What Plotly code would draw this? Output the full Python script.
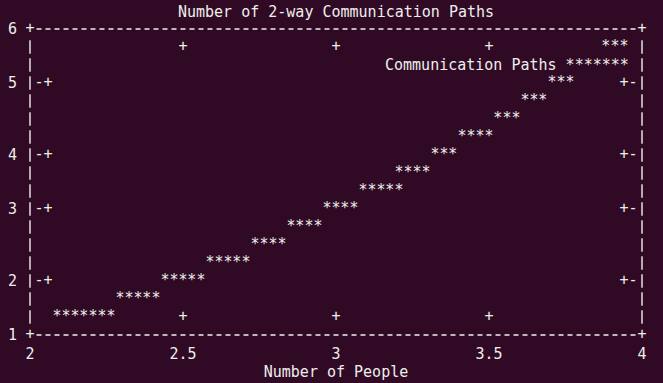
import plotly.graph_objects as go

# ---------------- data ----------------
title_text = "Number of 2-way Communication Paths"
x_label = "Number of People"
series_name = "Communication Paths"

x_ticks = [2, 2.5, 3, 3.5, 4]
x_tick_labels = ["2", "2.5", "3", "3.5", "4"]
y_ticks = [1, 2, 3, 4, 5, 6]
y_tick_labels = ["1", "2", "3", "4", "5", "6"]

# the curve as drawn by the text terminal: one value per '*' glyph
people = [
    2.088, 2.118, 2.147, 2.176, 2.206, 2.235, 2.265,
    2.294, 2.324, 2.353, 2.382, 2.412,
    2.441, 2.471, 2.500, 2.529, 2.559,
    2.588, 2.618, 2.647, 2.676, 2.706,
    2.735, 2.765, 2.794, 2.824,
    2.853, 2.882, 2.912, 2.941,
    2.971, 3.000, 3.029, 3.059,
    3.088, 3.118, 3.147, 3.176, 3.206,
    3.206, 3.235, 3.265, 3.294,
    3.324, 3.353, 3.382,
    3.412, 3.441, 3.471, 3.500,
    3.529, 3.559, 3.588,
    3.618, 3.647, 3.676,
    3.706, 3.735, 3.765,
    3.882, 3.912, 3.941,
]
paths = [
    1.294, 1.294, 1.294, 1.294, 1.294, 1.294, 1.294,
    1.588, 1.588, 1.588, 1.588, 1.588,
    1.882, 1.882, 1.882, 1.882, 1.882,
    2.176, 2.176, 2.176, 2.176, 2.176,
    2.471, 2.471, 2.471, 2.471,
    2.765, 2.765, 2.765, 2.765,
    3.059, 3.059, 3.059, 3.059,
    3.353, 3.353, 3.353, 3.353, 3.353,
    3.647, 3.647, 3.647, 3.647,
    3.941, 3.941, 3.941,
    4.235, 4.235, 4.235, 4.235,
    4.529, 4.529, 4.529,
    4.824, 4.824, 4.824,
    5.118, 5.118, 5.118,
    5.706, 5.706, 5.706,
]

# ---------------- styling ----------------
BG = "#300a24"
FG = "#eeeeec"
FONT = "DejaVu Sans Mono"
FS = 15
W, H = 663, 383
L, R, T, B = 30, 21, 29, 48
PW, PH = W - L - R, H - T - B      # 612 x 306
CELL_W, CELL_H = 9.0, 18.0

xmin, xmax = x_ticks[0], x_ticks[-1]
ymin, ymax = y_ticks[0], y_ticks[-1]
cw = (xmax - xmin) * CELL_W / PW    # one character column in data units
rh = (ymax - ymin) * CELL_H / PH    # one character row in data units


def snap_y(v):
    """Text terminals put ticks on the nearest character row."""
    return ymax - round((ymax - v) / rh) * rh


def snap_x(v):
    return xmin + round((v - xmin) / cw) * cw


inner_y = [v for v in y_ticks if ymin < v < ymax]
inner_x = [v for v in x_ticks if xmin < v < xmax]

# tick glyphs ("-+" on the left, "+-" on the right, "+" top and bottom)
tick_x, tick_y, tick_t = [], [], []
for v in inner_y:
    sy = snap_y(v)
    tick_x += [xmin + cw, xmin + 2 * cw, xmax - 2 * cw, xmax - cw]
    tick_y += [sy] * 4
    tick_t += ["-", "+", "+", "-"]
for v in inner_x:
    sx = snap_x(v)
    tick_x += [sx, sx]
    tick_y += [ymax - rh, ymin + rh]
    tick_t += ["+", "+"]
# border corners
for cx in (xmin, xmax):
    for cy in (ymin, ymax):
        tick_x.append(cx)
        tick_y.append(cy)
        tick_t.append("+")

fig = go.Figure()

fig.add_trace(go.Scatter(
    x=people, y=paths, mode="text", text=["*"] * len(people),
    textposition="middle center",
    textfont=dict(family=FONT, size=FS, color=FG),
    name=series_name, showlegend=False, cliponaxis=False,
    hoverinfo="x+y",
))

fig.add_trace(go.Scatter(
    x=tick_x, y=tick_y, mode="text", text=tick_t,
    textposition="middle center",
    textfont=dict(family=FONT, size=FS, color=FG),
    showlegend=False, cliponaxis=False, hoverinfo="skip",
))

# dashed border made of '-' and '|' character cells
hx0 = (CELL_W - 2.5) / PW
hx1 = 1 - (CELL_W - 2.5) / PW
vy0 = 1 - (CELL_H - 6.75) / PH
vy1 = (CELL_H - 6.75) / PH
shapes = []
for yy in (0, 1):
    shapes.append(dict(type="line", xref="paper", yref="paper",
                       x0=hx0, x1=hx1, y0=yy, y1=yy,
                       line=dict(color=FG, width=1.4, dash="5px,4px")))
for xx in (0, 1):
    shapes.append(dict(type="line", xref="paper", yref="paper",
                       x0=xx, x1=xx, y0=vy0, y1=vy1,
                       line=dict(color=FG, width=1.4, dash="13.5px,4.5px")))

# key: title followed by the sample, as the terminal writes it
key_text = series_name + " " + "*" * 7
key_center_col = 53
annotations = [dict(
    x=xmin + key_center_col * cw, y=ymax - 2 * rh, xref="x", yref="y",
    text=key_text, showarrow=False, xanchor="center", yanchor="middle",
    font=dict(family=FONT, size=FS, color=FG),
)]

fig.update_layout(
    width=W, height=H,
    margin=dict(l=L, r=R, t=T, b=B, pad=0, autoexpand=False),
    paper_bgcolor=BG, plot_bgcolor=BG,
    font=dict(family=FONT, size=FS, color=FG),
    title=dict(text=title_text, x=0.5, xref="paper", xanchor="center",
               y=1 - 11.3 / H, yref="container", yanchor="middle",
               font=dict(family=FONT, size=FS, color=FG)),
    shapes=shapes,
    annotations=annotations,
    showlegend=False,
    xaxis=dict(range=[xmin, xmax], tickvals=[snap_x(v) for v in x_ticks],
               ticktext=x_tick_labels, ticks="", showgrid=False,
               zeroline=False, showline=False, ticklabelstandoff=8,
               automargin=False,
               tickfont=dict(family=FONT, size=FS, color=FG),
               title=dict(text=x_label, standoff=3,
                          font=dict(family=FONT, size=FS, color=FG))),
    yaxis=dict(range=[ymin, ymax], tickvals=[snap_y(v) for v in y_ticks],
               ticktext=y_tick_labels, ticks="", showgrid=False,
               zeroline=False, showline=False, ticklabelstandoff=12,
               automargin=False,
               tickfont=dict(family=FONT, size=FS, color=FG)),
)

fig.write_html("out.html")
